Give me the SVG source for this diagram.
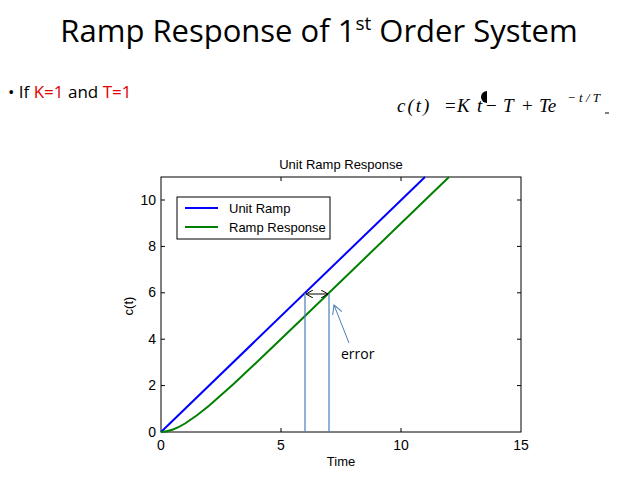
<svg xmlns="http://www.w3.org/2000/svg" width="638" height="478" viewBox="0 0 638 478">
<style>
.ax{font-family:"Liberation Sans",Arial,sans-serif;font-size:13px;fill:#000}
.cal{font-family:"Open Sans","Liberation Sans",sans-serif}
.m{font-family:"Liberation Serif","Times New Roman",serif;font-style:italic;font-size:19px}
.n{font-family:"Liberation Serif","Times New Roman",serif;font-size:19px}
.sup{font-family:"Liberation Serif","Times New Roman",serif;font-style:italic;font-size:13px}
</style>
<defs>
<marker id="ah" markerWidth="8" markerHeight="8" refX="7" refY="4" orient="auto-start-reverse" markerUnits="userSpaceOnUse"><path d="M0,0 L7,4 L0,8" fill="none" stroke="#000" stroke-width="1"/></marker>
<marker id="ab" markerWidth="10" markerHeight="10" refX="9" refY="5" orient="auto" markerUnits="userSpaceOnUse"><path d="M0,0 L9,5 L0,10" fill="none" stroke="#4a7ebb" stroke-width="1"/></marker>
</defs>
<rect width="638" height="478" fill="#fff"/>
<g id="title"><text x="319" y="42" text-anchor="middle" class="cal" font-size="31">Ramp Response of 1<tspan font-size="19" dy="-12">st</tspan><tspan dy="12"> Order System</tspan></text></g>
<g id="bullet"><text x="8" y="98" class="cal" font-size="17">• If <tspan fill="#e00000">K=1</tspan> and <tspan fill="#e00000">T=1</tspan></text></g>
<g id="formula">
<text x="397" y="112" class="m" letter-spacing="2">c(t)</text>
<text x="445" y="112" class="n">=</text>
<text x="457" y="112" class="m">K</text>
<text x="477" y="112" class="m">t</text>
<text x="486" y="112" class="n">−</text>
<text x="503" y="112" class="m">T</text>
<text x="522" y="112" class="n">+</text>
<text x="539" y="112" class="m">Te</text>
<text x="567" y="102" class="sup">− t / T</text>
<path d="M487,91 a6,6 0 0 0 0,12 z" fill="#000"/>
<path d="M605,113h4" stroke="#000" stroke-width="1"/>
</g>
<g id="plot">
<text x="341" y="169" text-anchor="middle" class="ax">Unit Ramp Response</text>
<rect x="161" y="177" width="360" height="255" fill="none" stroke="#000"/>
<g stroke="#000" stroke-width="1">
<path d="M281,432v-4M401,432v-4M281,177v4M401,177v4M161,385.6h4M161,339.2h4M161,292.8h4M161,246.4h4M161,200h4M521,385.6h-4M521,339.2h-4M521,292.8h-4M521,246.4h-4M521,200h-4"/>
</g>
<g class="ax" text-anchor="end" style="font-size:14px">
<text x="156" y="437">0</text><text x="156" y="390">2</text><text x="156" y="344">4</text><text x="156" y="297">6</text><text x="156" y="251">8</text><text x="156" y="205">10</text>
</g>
<g class="ax" text-anchor="middle">
<text x="161" y="450" style="font-size:14px">0</text><text x="281" y="450" style="font-size:14px">5</text><text x="401" y="450" style="font-size:14px">10</text><text x="521" y="450" style="font-size:14px">15</text>
<text x="341" y="466">Time</text>
<text transform="translate(133,306) rotate(-90)">c(t)</text>
</g>
<g id="curves" fill="none" stroke-width="2">
<path d="M161,432 L425,177" stroke="#0000ff"/>
<path d="M161,432 C165,432 169,431 173,429.5 C177,428 181,426 185,423.5 L197,415.2 L209,405.7 L233,384.4 L257,362 L281,339 L305,316 L449,177" stroke="#008000"/>
</g>
<g id="legend">
<rect x="177" y="197" width="153" height="42" fill="#fff" stroke="#000"/>
<path d="M185,208h33" stroke="#0000ff" stroke-width="2"/>
<path d="M185,227h33" stroke="#008000" stroke-width="2"/>
<text x="229" y="213" class="ax">Unit Ramp</text>
<text x="229" y="232" class="ax">Ramp Response</text>
</g>
</g>
<g id="connectors">
<path d="M305,432V293M329,432V294" stroke="#4a7ebb" stroke-width="1.2"/>
<path d="M306,294H328" stroke="#000" stroke-width="1" marker-start="url(#ah)" marker-end="url(#ah)"/>
<path d="M349,343L334,305" stroke="#4a7ebb" stroke-width="1" marker-end="url(#ab)"/>
</g>
<g id="errlabel"><text x="341" y="359" class="cal" font-size="14">error</text></g>
</svg>
